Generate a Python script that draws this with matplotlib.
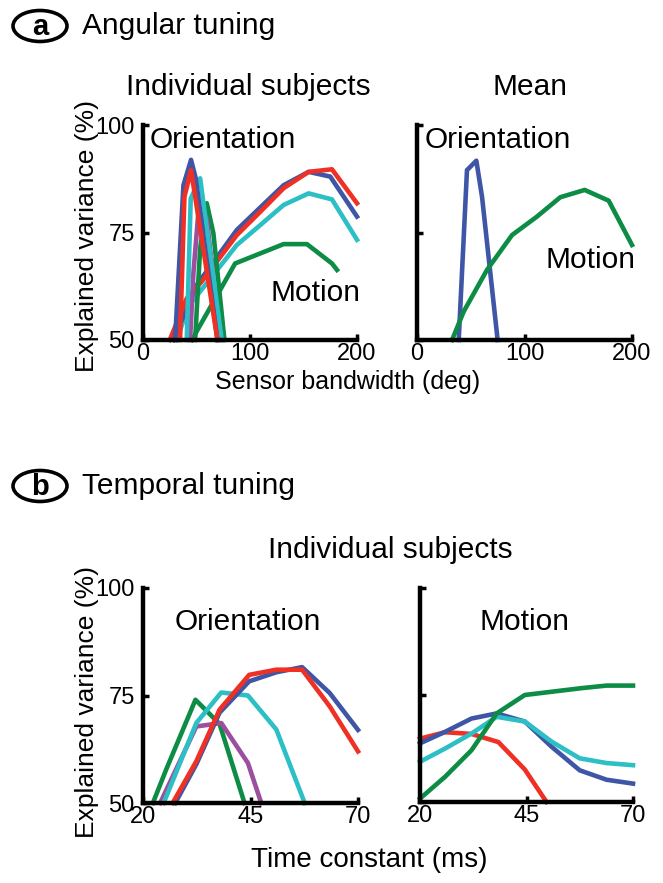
import numpy as np
import matplotlib
matplotlib.use("Agg")
import matplotlib.pyplot as plt
from matplotlib.patches import Ellipse

plt.rcParams['font.family'] = ['Liberation Sans', 'DejaVu Sans']

W, H = 663, 883

BLUE = '#3f56a6'
RED = '#ee3124'
CYAN = '#2cbfc6'
GREEN = '#0c8c45'
PURPLE = '#9c4f9f'

# (a) angular tuning, individual subjects - orientation curves
ang_ori_blue_x = [30, 37.8, 44.9, 49.3, 69.6]
ang_ori_blue_y = [50, 86, 91.9, 87.6, 50]
ang_ori_red_x = [34.6, 38.7, 44.9, 69.6]
ang_ori_red_y = [50, 83.3, 89.5, 50]
ang_ori_cyan_x = [40.9, 44.6, 53.4, 73.6]
ang_ori_cyan_y = [50, 82.9, 87.6, 50]
ang_ori_purple_x = [44, 47.1, 51.8, 59.6, 72.1]
ang_ori_purple_y = [50, 65.5, 79.8, 78.3, 50]
ang_ori_green_x = [48.7, 53.4, 59.6, 65.8, 76.1]
ang_ori_green_y = [50, 71.3, 81.8, 74.8, 50]

# (a) angular tuning, individual subjects - motion curves
ang_mot_red_x = [25, 40.9, 54.9, 87.7, 109.5, 131.4, 154.8, 176.6, 200]
ang_mot_red_y = [50, 59.7, 63.6, 74.4, 79.8, 85.3, 89.1, 89.7, 81.8]
ang_mot_blue_x = [28.4, 50.2, 87.7, 109.5, 131.4, 154.8, 175, 200]
ang_mot_blue_y = [50, 62.8, 75.6, 80.8, 86, 89.1, 88, 78.7]
ang_mot_cyan_x = [31.5, 42.4, 87.7, 109.5, 131.4, 154.8, 176.6, 200]
ang_mot_cyan_y = [50, 57.8, 72.1, 76.7, 81.4, 84.1, 82.7, 73.3]
ang_mot_green_x = [45.6, 86.1, 131.4, 153.2, 176.6, 181.3]
ang_mot_green_y = [50, 67.8, 72.3, 72.3, 67.8, 66.3]

# (a) mean
mean_ori_x = [38.8, 46.5, 55.2, 60.5, 75]
mean_ori_y = [50, 89.5, 91.7, 83.3, 50]
mean_mot_x = [32.6, 43.4, 65.1, 88.4, 111.6, 133.3, 156, 178.3, 200]
mean_mot_y = [50, 56.6, 66.3, 74.4, 78.7, 83.2, 84.9, 82.4, 72.1]

# (b) temporal tuning - orientation
tmp_ori_green_x = [22.3, 25.4, 32.2, 37.8, 43.6]
tmp_ori_green_y = [50, 57.8, 74, 68.4, 50]
tmp_ori_purple_x = [24, 32.4, 38.2, 44.4, 47.5]
tmp_ori_purple_y = [50, 67.8, 68.6, 59.3, 50]
tmp_ori_cyan_x = [24.8, 32.4, 38.2, 44.4, 51, 57.6]
tmp_ori_cyan_y = [50, 68.6, 75.7, 75, 67.1, 50]
tmp_ori_blue_x = [27.5, 32.4, 37.8, 44.7, 51, 57, 63.4, 70]
tmp_ori_blue_y = [50, 59, 71, 78.3, 80.4, 81.6, 75.6, 67]
tmp_ori_red_x = [26.9, 32.4, 37.8, 44.7, 51, 57, 63.4, 70]
tmp_ori_red_y = [50, 59.7, 71.7, 79.8, 81, 81, 72.5, 62]

# (b) temporal tuning - motion
tmp_mot_green_x = [20, 25.9, 32.1, 38, 44.6, 57.9, 63.8, 70]
tmp_mot_green_y = [50.8, 55.9, 62.1, 70.7, 75, 76.6, 77.2, 77.2]
tmp_mot_blue_x = [20, 25.9, 32.1, 38, 44.6, 50.9, 57.5, 63.8, 70]
tmp_mot_blue_y = [63.7, 66.4, 69.5, 70.7, 68.8, 62.9, 57.4, 55.2, 54.3]
tmp_mot_red_x = [20, 25.9, 32.1, 38.4, 44.6, 49.7]
tmp_mot_red_y = [64.8, 66.3, 65.9, 64, 57.6, 50]
tmp_mot_cyan_x = [20, 25.9, 32.1, 38, 44.6, 50.9, 57.5, 63.8, 70]
tmp_mot_cyan_y = [59.4, 62.5, 66, 69.9, 68.8, 64.1, 60.2, 59.1, 58.6]

FS = 21.5      # titles and in-plot labels
TICK_FS = 17


def px_axes(fig, x0, y0, x1, y1):
    return fig.add_axes([x0 / W, 1 - y1 / H, (x1 - x0) / W, (y1 - y0) / H])


def style(ax, xlim, xticks):
    ax.set_xlim(*xlim)
    ax.set_ylim(50, 100)
    ax.set_xticks(xticks)
    ax.set_yticks([50, 75, 100])
    for s in ['top', 'right']:
        ax.spines[s].set_visible(False)
    for s in ['left', 'bottom']:
        ax.spines[s].set_linewidth(3.2)
    ax.xaxis.set_tick_params(direction='in', length=4, width=2.5,
                             labelsize=TICK_FS, pad=2)
    ax.yaxis.set_tick_params(direction='in', length=4, width=2.5,
                             labelsize=TICK_FS, pad=6)
    ax.set_facecolor('none')


def ftext(x, y, s, **kw):
    fig.text(x / W, 1 - y / H, s, **kw)


fig = plt.figure(figsize=(W / 100, H / 100), dpi=100)
lw = 3.3

# panel a left
ax1 = px_axes(fig, 143, 125, 357, 340)
style(ax1, (0, 200), [0, 100, 200])
for xs, ys, c in [(ang_mot_green_x, ang_mot_green_y, GREEN),
                  (ang_mot_cyan_x, ang_mot_cyan_y, CYAN),
                  (ang_mot_blue_x, ang_mot_blue_y, BLUE),
                  (ang_mot_red_x, ang_mot_red_y, RED),
                  (ang_ori_green_x, ang_ori_green_y, GREEN),
                  (ang_ori_purple_x, ang_ori_purple_y, PURPLE),
                  (ang_ori_cyan_x, ang_ori_cyan_y, CYAN),
                  (ang_ori_blue_x, ang_ori_blue_y, BLUE),
                  (ang_ori_red_x, ang_ori_red_y, RED)]:
    ax1.plot(xs, ys, color=c, lw=lw, clip_on=False)
ax1.text(6.5, 96.5, 'Orientation', fontsize=FS, va='center')
ax1.text(203, 61, 'Motion', fontsize=FS, va='center', ha='right')

# panel a right
ax2 = px_axes(fig, 417, 125, 632, 340)
style(ax2, (0, 200), [0, 100, 200])
ax2.set_yticklabels([])
ax2.plot(mean_ori_x, mean_ori_y, color=BLUE, lw=lw, clip_on=False)
ax2.plot(mean_mot_x, mean_mot_y, color=GREEN, lw=lw, clip_on=False)
ax2.text(7.4, 96.5, 'Orientation', fontsize=FS, va='center')
ax2.text(203, 68.6, 'Motion', fontsize=FS, va='center', ha='right')

# panel b left
ax3 = px_axes(fig, 143, 588, 358, 803)
style(ax3, (20, 70), [20, 45, 70])
for xs, ys, c in [(tmp_ori_green_x, tmp_ori_green_y, GREEN),
                  (tmp_ori_purple_x, tmp_ori_purple_y, PURPLE),
                  (tmp_ori_cyan_x, tmp_ori_cyan_y, CYAN),
                  (tmp_ori_blue_x, tmp_ori_blue_y, BLUE),
                  (tmp_ori_red_x, tmp_ori_red_y, RED)]:
    ax3.plot(xs, ys, color=c, lw=lw, clip_on=False)
ax3.text(44.4, 92, 'Orientation', fontsize=FS, va='center', ha='center')

# panel b right
ax4 = px_axes(fig, 420, 588, 633, 802)
style(ax4, (20, 70), [20, 45, 70])
ax4.set_yticklabels([])
for xs, ys, c in [(tmp_mot_red_x, tmp_mot_red_y, RED),
                  (tmp_mot_blue_x, tmp_mot_blue_y, BLUE),
                  (tmp_mot_cyan_x, tmp_mot_cyan_y, CYAN),
                  (tmp_mot_green_x, tmp_mot_green_y, GREEN)]:
    ax4.plot(xs, ys, color=c, lw=lw, clip_on=False)
ax4.text(44.6, 92, 'Motion', fontsize=FS, va='center', ha='center')

# panel labels and titles
for cy, lab, title in [(26, 'a', 'Angular tuning'), (486, 'b', 'Temporal tuning')]:
    fig.patches.append(Ellipse((40 / W, 1 - cy / H), 54 / W, 31 / H,
                               transform=fig.transFigure, fill=False,
                               lw=2.6, ec='black'))
    ftext(40, cy + 1, lab, fontsize=21, fontweight='bold', ha='center', va='center')
    ftext(82, cy, title, fontsize=FS, va='center')

ftext(248, 87, 'Individual subjects', fontsize=FS, ha='center', va='center')
ftext(530, 87, 'Mean', fontsize=FS, ha='center', va='center')
ftext(390, 550, 'Individual subjects', fontsize=FS, ha='center', va='center')
ftext(87, 236, 'Explained variance (%)', fontsize=19, ha='center', va='center', rotation=90)
ftext(87, 702, 'Explained variance (%)', fontsize=19, ha='center', va='center', rotation=90)
ftext(348, 382, 'Sensor bandwidth (deg)', fontsize=18, ha='center', va='center')
ftext(369, 860, 'Time constant (ms)', fontsize=20, ha='center', va='center')

fig.savefig('out.png', dpi=100)
